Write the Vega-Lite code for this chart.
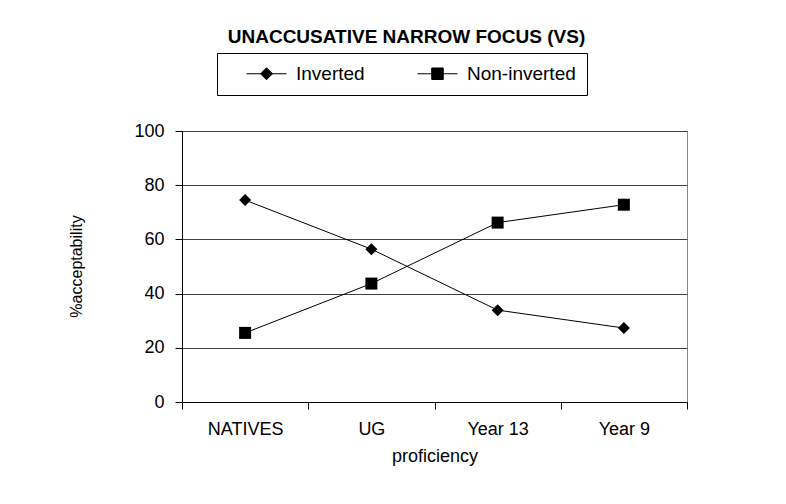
{
  "$schema": "https://vega.github.io/schema/vega-lite/v6.json",
  "width": 505,
  "height": 271,
  "autosize": {"type": "none"},
  "padding": {"left": 182, "top": 131, "right": 99, "bottom": 102},
  "background": "white",
  "title": {
    "text": "UNACCUSATIVE NARROW FOCUS (VS)",
    "font": "Liberation Sans",
    "fontSize": 19,
    "fontWeight": "bold",
    "color": "black",
    "anchor": "middle",
    "frame": "group",
    "dx": -28,
    "dy": 14,
    "baseline": "alphabetic",
    "offset": 5
  },
  "config": {
    "font": "Liberation Sans",
    "view": {"stroke": "#888888", "strokeWidth": 1}
  },
  "data": {
    "values": [
      {"proficiency": "NATIVES", "series": "Inverted", "acceptability": 74.5},
      {"proficiency": "UG", "series": "Inverted", "acceptability": 56.4},
      {"proficiency": "Year 13", "series": "Inverted", "acceptability": 33.9},
      {"proficiency": "Year 9", "series": "Inverted", "acceptability": 27.3},
      {"proficiency": "NATIVES", "series": "Non-inverted", "acceptability": 25.5},
      {"proficiency": "UG", "series": "Non-inverted", "acceptability": 43.7},
      {"proficiency": "Year 13", "series": "Non-inverted", "acceptability": 66.2},
      {"proficiency": "Year 9", "series": "Non-inverted", "acceptability": 72.8}
    ]
  },
  "layer": [
    {
      "mark": {"type": "line", "strokeWidth": 1, "color": "black"},
      "encoding": {
        "x": {
          "field": "proficiency",
          "type": "nominal",
          "sort": ["NATIVES", "UG", "Year 13", "Year 9"],
          "bandPosition": 0.5,
          "scale": {"type": "band", "paddingInner": 0, "paddingOuter": 0},
          "axis": {
            "title": "proficiency",
            "titleFontSize": 18,
            "titleFontWeight": "normal",
            "titleColor": "black",
            "titlePadding": 9,
            "labelAngle": 0,
            "labelFontSize": 18,
            "labelColor": "black",
            "labelPadding": 11,
            "tickSize": 7,
            "tickBand": "extent",
            "tickColor": "black",
            "domainColor": "black",
            "grid": false
          }
        },
        "y": {
          "field": "acceptability",
          "type": "quantitative",
          "scale": {"domain": [0, 100], "nice": false},
          "axis": {
            "title": "%acceptability",
            "titleFontSize": 16,
            "titleFontWeight": "normal",
            "titleColor": "black",
            "titleX": -106,
            "titleY": 135,
            "titleAngle": -90,
            "titleAlign": "center",
            "titleBaseline": "middle",
            "values": [0, 20, 40, 60, 80, 100],
            "labelFontSize": 18,
            "labelColor": "black",
            "labelPadding": 11,
            "tickSize": 7,
            "tickColor": "black",
            "domainColor": "black",
            "grid": true,
            "gridColor": "#404040"
          }
        },
        "color": {
          "field": "series",
          "type": "nominal",
          "sort": ["Inverted", "Non-inverted"],
          "scale": {"range": ["black", "black"]},
          "legend": {
            "title": null,
            "orient": "none",
            "legendX": 35,
            "legendY": -78,
            "direction": "horizontal",
            "strokeColor": "black",
            "fillColor": "white",
            "padding": 11,
            "symbolSize": 256,
            "symbolOffset": 29,
            "labelOffset": 20,
            "columnPadding": 34,
            "labelFontSize": 19,
            "labelColor": "black",
            "encode": {
              "symbols": {
                "update": {
                  "shape": {"signal": "datum.value === 'Inverted' ? 'M-2.5,0H2.5M0,-0.75L0.75,0L0,0.75L-0.75,0Z' : 'M-2.5,0H2.5M-0.72,-0.72H0.72V0.72H-0.72Z'"},
                  "fill": {"value": "black"},
                  "stroke": {"value": "black"},
                  "strokeWidth": {"value": 1},
                  "opacity": {"value": 1}
                }
              }
            }
          }
        }
      }
    },
    {
      "mark": {"type": "point", "filled": true, "size": 144, "color": "black", "opacity": 1},
      "encoding": {
        "x": {
          "field": "proficiency",
          "type": "nominal",
          "sort": ["NATIVES", "UG", "Year 13", "Year 9"],
          "bandPosition": 0.5
        },
        "y": {"field": "acceptability", "type": "quantitative"},
        "shape": {
          "field": "series",
          "type": "nominal",
          "scale": {"domain": ["Inverted", "Non-inverted"], "range": ["diamond", "square"]},
          "legend": null
        }
      }
    }
  ]
}
